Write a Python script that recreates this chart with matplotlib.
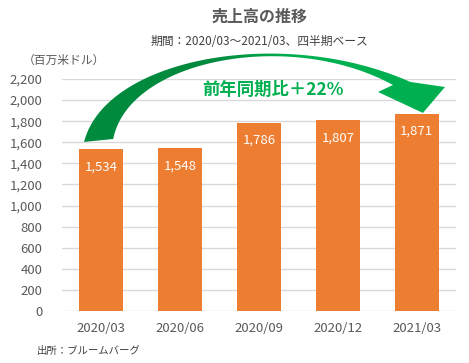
import matplotlib.pyplot as plt
import numpy as np
from matplotlib.path import Path
from matplotlib.patches import PathPatch
from matplotlib.colors import LinearSegmentedColormap

plt.rcParams['font.family'] = ['Noto Sans CJK JP', 'DejaVu Sans']

# データ
quarters = ["2020/03", "2020/06", "2020/09", "2020/12", "2021/03"]
sales = [1534, 1548, 1786, 1807, 1871]
yticks = list(range(0, 2201, 200))

TITLE = "売上高の推移"
SUBTITLE = "期間：2020/03～2021/03、四半期ベース"
UNIT = "（百万米ドル）"
SOURCE = "出所：ブルームバーグ"
GROWTH = "前年同期比＋22%"

BAR_COLOR = "#ED7D31"
TEXT_COLOR = "#595959"


def bezier(p0, p1, p2, p3, n=80):
    """3次ベジェ曲線の点列"""
    t = np.linspace(0, 1, n)[:, None]
    p0, p1, p2, p3 = map(np.array, (p0, p1, p2, p3))
    return ((1 - t) ** 3 * p0 + 3 * (1 - t) ** 2 * t * p1
            + 3 * (1 - t) * t ** 2 * p2 + t ** 3 * p3)


def draw_arrow(ax, fig):
    """1本目の棒から最後の棒へのカーブ矢印（グラデーション）"""
    outer = bezier((-0.22, 1603), (0.05, 2400), (2.3, 2710), (3.92, 2172))
    inner = bezier((0.15, 1631), (0.35, 2390), (2.4, 2675), (3.70, 2143))
    head = np.array([(4.36, 2124), (4.08, 1878), (3.51, 2077)])
    pts = np.vstack([outer, head, inner[::-1], outer[:1]])
    codes = [Path.MOVETO] + [Path.LINETO] * (len(pts) - 2) + [Path.CLOSEPOLY]
    patch = PathPatch(Path(pts, codes), facecolor="none", edgecolor="none")
    ax.add_patch(patch)
    patch.set_clip_on(False)

    cmap = LinearSegmentedColormap.from_list(
        "g", [(0, "#008A3E"), (0.35, "#008A3E"), (0.6, "#00B050"), (1, "#00B050")])
    grad = np.linspace(0, 1, 256)[None, :]
    im = ax.imshow(grad, cmap=cmap, aspect="auto",
                   extent=(-0.3, 4.4, 1550, 2500), origin="lower", zorder=4)
    im.set_clip_box(fig.bbox)
    im.set_clip_path(patch)


fig = plt.figure(figsize=(4.69, 3.63), dpi=100)
ax = fig.add_axes([0.1322, 0.1433, 0.8401, 0.6391])

x = np.arange(len(quarters))
bars = ax.bar(x, sales, width=0.56, color=BAR_COLOR, zorder=3)
for xi, v in zip(x, sales):
    ax.text(xi, v - 170, f"{v:,}", ha="center", va="center",
            color="white", fontsize=9.5, zorder=5)

draw_arrow(ax, fig)
ax.text(2.18, 2096, GROWTH, ha="center", va="center", color="#00B050",
        fontsize=12.5, fontweight="bold", zorder=5)

ax.set_xlim(-0.5, len(quarters) - 0.5)
ax.set_ylim(0, 2200)
ax.set_yticks(yticks)
ax.set_yticklabels([f"{v:,}" for v in yticks])
ax.set_xticks(x)
ax.set_xticklabels(quarters)
ax.grid(axis="y", color="#D9D9D9", linewidth=1, zorder=0)
for s in ax.spines.values():
    s.set_visible(False)
ax.tick_params(length=0, colors=TEXT_COLOR, labelsize=9.5)
ax.tick_params(axis="y", pad=14)
ax.tick_params(axis="x", pad=8)

fig.text(0.553, 0.953, TITLE, ha="center", va="center", fontsize=11.5,
         fontweight="bold", color=TEXT_COLOR)
fig.text(0.553, 0.887, SUBTITLE, ha="center", va="center", fontsize=8.5,
         color="#404040")
fig.text(0.048, 0.835, UNIT, ha="left", va="center", fontsize=8.5,
         color=TEXT_COLOR)
fig.text(0.079, 0.033, SOURCE, ha="left", va="center", fontsize=7.5,
         color="#404040")

fig.savefig("out.png", dpi=100)
